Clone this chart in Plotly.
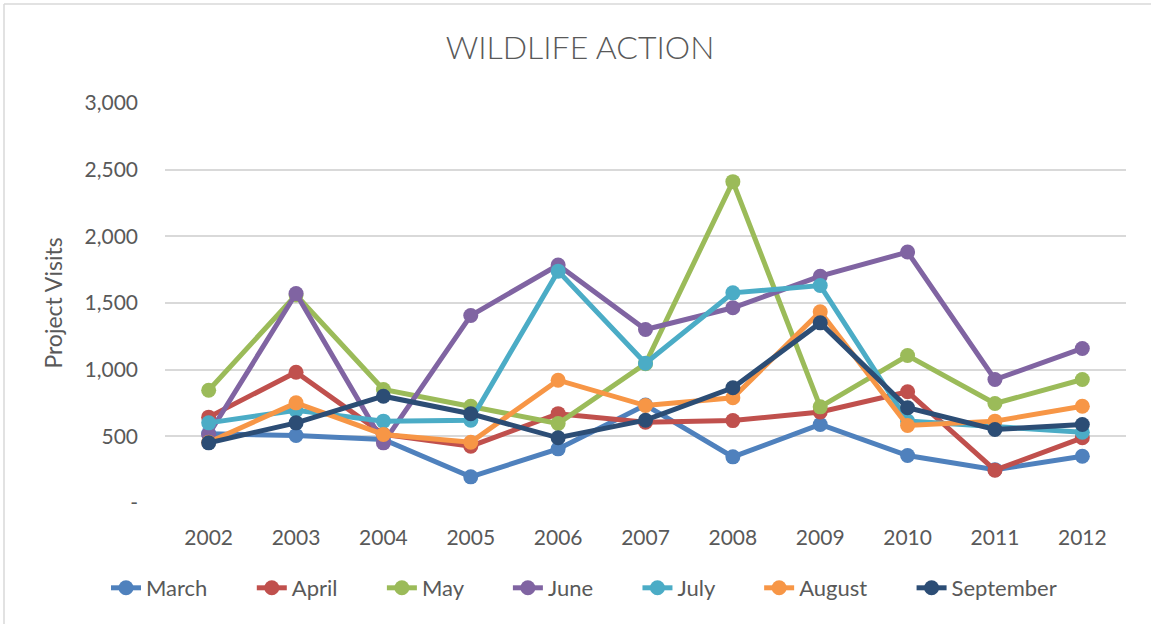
import plotly.graph_objects as go

# Data
years = ["2002", "2003", "2004", "2005", "2006", "2007", "2008", "2009", "2010", "2011", "2012"]
march = [520, 506, 476, 196, 406, 735, 346, 589, 356, 250, 351]
april = [644, 981, 515, 426, 670, 606, 618, 683, 834, 246, 489]
may = [846, 1560, 851, 726, 596, 1045, 2410, 721, 1106, 746, 926]
june = [514, 1571, 451, 1406, 1785, 1301, 1464, 1701, 1882, 926, 1159]
july = [601, 695, 614, 621, 1739, 1048, 1576, 1631, 615, 570, 531]
august = [456, 751, 514, 456, 921, 731, 789, 1434, 581, 614, 726]
september = [451, 601, 801, 669, 489, 621, 864, 1351, 714, 551, 589]

tick_vals = [0, 500, 1000, 1500, 2000, 2500, 3000]
tick_text = ["-", "500", "1,000", "1,500", "2,000", "2,500", "3,000"]

# Excel Office theme colours
series = [
    ("March", march, "#4F81BD"),
    ("April", april, "#C0504D"),
    ("May", may, "#9BBB59"),
    ("June", june, "#8064A2"),
    ("July", july, "#4BACC6"),
    ("August", august, "#F79646"),
    ("September", september, "#2C4D75"),
]

TEXT = "#595959"
GRID = "#D9D9D9"
FONT = "Lato"
PAD = "\u00a0" * 7  # extra room between legend entries, like Excel

fig = go.Figure()

for idx, (name, values, colour) in enumerate(series):
    label = name if idx == len(series) - 1 else name + PAD
    fig.add_trace(go.Scatter(
        x=years,
        y=values,
        name=label,
        mode="lines+markers",
        line=dict(color=colour, width=5),
        marker=dict(color=colour, size=15),
    ))

fig.update_layout(
    width=1151,
    height=624,
    paper_bgcolor="white",
    plot_bgcolor="white",
    margin=dict(l=165, r=25, t=103, b=121, autoexpand=False),
    font=dict(family=FONT, size=21, color=TEXT),
    title=dict(
        text="WILDLIFE ACTION",
        x=580 / 1151,
        xref="container",
        xanchor="center",
        y=1 - 48 / 624,
        yref="container",
        yanchor="middle",
        font=dict(family=FONT, size=32, color=TEXT, weight=300),
    ),
    xaxis=dict(
        type="category",
        range=[-0.5, 10.5],
        showgrid=False,
        zeroline=False,
        showline=False,
        ticks="",
        automargin=False,
        ticklabelstandoff=20,
        tickfont=dict(size=21, color=TEXT),
    ),
    yaxis=dict(
        range=[0, 3000],
        tickvals=tick_vals,
        ticktext=tick_text,
        showgrid=True,
        gridcolor=GRID,
        gridwidth=1.5,
        zeroline=False,
        showline=False,
        ticks="",
        automargin=False,
        ticklabelstandoff=26,
        tickfont=dict(size=21, color=TEXT),
        title=dict(text="Project Visits", standoff=15, font=dict(size=23, color=TEXT)),
    ),
    legend=dict(
        orientation="h",
        x=584 / 1151,
        xref="container",
        xanchor="center",
        y=1 - 588 / 624,
        yref="container",
        yanchor="middle",
        font=dict(size=22, color=TEXT),
        itemwidth=30,
    ),
    shapes=[
        # chart border (top and left edges)
        dict(type="line", xref="paper", yref="paper",
             x0=(4 - 165) / 961, x1=1.03, y0=(503 - 4) / 400, y1=(503 - 4) / 400,
             line=dict(color=GRID, width=1.5)),
        dict(type="line", xref="paper", yref="paper",
             x0=(4 - 165) / 961, x1=(4 - 165) / 961, y0=(503 - 4) / 400, y1=-0.31,
             line=dict(color=GRID, width=1.5)),
    ],
)

# drop the browser's default body margin so the figure sits at the page corner
fig.write_html(
    "out.html",
    config={"displayModeBar": False},
    post_script="document.body.style.margin='0px';",
)
